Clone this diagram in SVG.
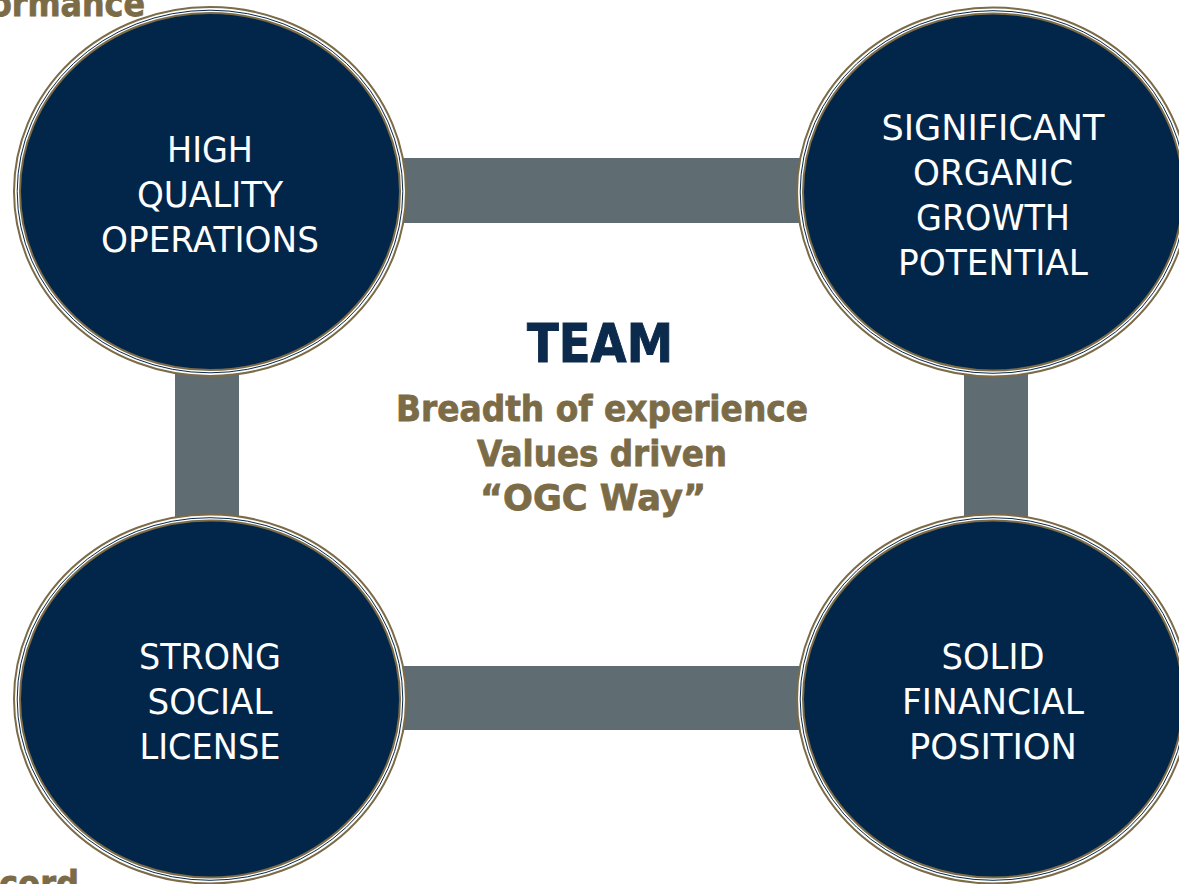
<svg xmlns="http://www.w3.org/2000/svg" width="1179" height="884" viewBox="0 0 1179 884">
  <style>
    .bar { fill: #5f6c71; }
    .ring-outer { fill: #ffffff; stroke: #7b6b47; stroke-width: 2; }
    .ring-mid { fill: none; stroke: #0a2a4d; stroke-width: 1; }
    .disc { fill: #022649; stroke: #7b6b47; stroke-width: 2; }
    .label { font-family: "DejaVu Sans", "Liberation Sans", sans-serif; font-size: 36px; fill: #ffffff; text-anchor: middle; }
    .title { font-family: "DejaVu Sans", "Liberation Sans", sans-serif; font-weight: bold; font-size: 53px; fill: #0b2a4c; stroke: #0b2a4c; stroke-width: 1; text-anchor: middle; }
    .sub { font-family: "DejaVu Sans", "Liberation Sans", sans-serif; font-weight: bold; font-size: 36px; fill: #7b6b47; stroke: #7b6b47; stroke-width: 0.8; text-anchor: middle; }
    .edge { font-family: "DejaVu Sans", "Liberation Sans", sans-serif; font-weight: bold; font-size: 36px; fill: #7b6b47; stroke: #7b6b47; stroke-width: 0.8; }
  </style>
  <defs>
    <g id="badge">
      <ellipse class="ring-outer" cx="0" cy="0" rx="196" ry="184.5"/>
      <ellipse class="ring-mid" cx="0" cy="0" rx="192.8" ry="181.3"/>
      <ellipse class="disc" cx="0" cy="0" rx="190" ry="178.5"/>
    </g>
  </defs>

  <rect width="1179" height="884" fill="#ffffff"/>

  <!-- partial headings running off the page edges -->
  <text class="edge" x="-10" y="16" textLength="155" lengthAdjust="spacingAndGlyphs">ormance</text>
  <text class="edge" x="-1" y="896" textLength="80" lengthAdjust="spacingAndGlyphs">cord</text>

  <!-- connecting bars -->
  <g id="connectors">
    <rect class="bar" x="210" y="158" width="783" height="65"/>
    <rect class="bar" x="210" y="666" width="783" height="64"/>
    <rect class="bar" x="175" y="192" width="64" height="507"/>
    <rect class="bar" x="964" y="192" width="64" height="507"/>
  </g>

  <g id="node-operations">
    <use href="#badge" x="210" y="191.5"/>
    <text class="label" x="210" y="162" textLength="86" lengthAdjust="spacingAndGlyphs">HIGH</text>
    <text class="label" x="210" y="207" textLength="146" lengthAdjust="spacingAndGlyphs">QUALITY</text>
    <text class="label" x="210" y="252" textLength="218" lengthAdjust="spacingAndGlyphs">OPERATIONS</text>
  </g>

  <g id="node-growth">
    <use href="#badge" x="993" y="192"/>
    <text class="label" x="993" y="140" textLength="223" lengthAdjust="spacingAndGlyphs">SIGNIFICANT</text>
    <text class="label" x="993" y="185" textLength="160" lengthAdjust="spacingAndGlyphs">ORGANIC</text>
    <text class="label" x="993" y="230" textLength="154" lengthAdjust="spacingAndGlyphs">GROWTH</text>
    <text class="label" x="993" y="275" textLength="190" lengthAdjust="spacingAndGlyphs">POTENTIAL</text>
  </g>

  <g id="node-social">
    <use href="#badge" x="210" y="699"/>
    <text class="label" x="210" y="669" textLength="142" lengthAdjust="spacingAndGlyphs">STRONG</text>
    <text class="label" x="210" y="714" textLength="125" lengthAdjust="spacingAndGlyphs">SOCIAL</text>
    <text class="label" x="210" y="759" textLength="141" lengthAdjust="spacingAndGlyphs">LICENSE</text>
  </g>

  <g id="node-financial">
    <use href="#badge" x="993" y="699"/>
    <text class="label" x="993" y="669" textLength="103" lengthAdjust="spacingAndGlyphs">SOLID</text>
    <text class="label" x="993" y="714" textLength="182" lengthAdjust="spacingAndGlyphs">FINANCIAL</text>
    <text class="label" x="993" y="759" textLength="168" lengthAdjust="spacingAndGlyphs">POSITION</text>
  </g>

  <g id="node-team">
    <text class="title" x="600" y="362" textLength="146" lengthAdjust="spacingAndGlyphs">TEAM</text>
    <text class="sub" x="602" y="421" textLength="412" lengthAdjust="spacingAndGlyphs">Breadth of experience</text>
    <text class="sub" x="602" y="466" textLength="250" lengthAdjust="spacingAndGlyphs">Values driven</text>
    <text class="sub" x="593" y="510" textLength="226" lengthAdjust="spacingAndGlyphs">“OGC Way”</text>
  </g>
</svg>
